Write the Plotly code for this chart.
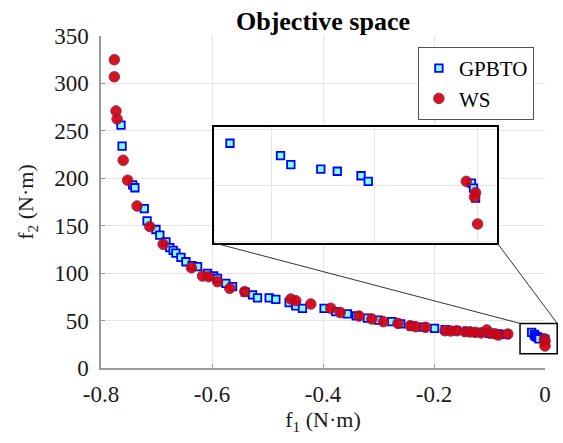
import plotly.graph_objects as go

# GPBTO front (f1, f2) in N·m
gpbto_f1 = [-0.764, -0.762, -0.743, -0.739, -0.722, -0.717, -0.701, -0.694, -0.683,
            -0.676, -0.670, -0.665, -0.656, -0.647, -0.636, -0.626, -0.608, -0.597,
            -0.590, -0.575, -0.563, -0.540, -0.527, -0.518, -0.497, -0.485, -0.461,
            -0.449, -0.437, -0.398, -0.377, -0.356, -0.340, -0.320, -0.300, -0.276,
            -0.260, -0.240, -0.220, -0.199, -0.180, -0.160, -0.140, -0.120, -0.100,
            -0.085, -0.070,
            -0.0240, -0.0191, -0.0181, -0.0152, -0.0136, -0.0113, -0.0106,
            -0.0006, -0.0004, -0.0002]
gpbto_f2 = [256, 234, 193, 190, 168, 155, 146, 140, 133,
            127, 124, 121, 116.7, 112, 108, 106.8, 99.8, 97,
            94.5, 89.3, 85.7, 80, 77, 74, 74, 72.4, 68.9,
            65.4, 62.9, 62.9, 59.4, 57, 55, 52.5, 50.5, 48.8,
            46.5, 44.5, 43, 41.8, 40.5, 39.5, 38.5, 37.5, 36.5,
            36, 35.5,
            37.6, 35.4, 33.8, 33.0, 32.6, 31.8, 30.8,
            30.5, 29.6, 27.8]

# WS front (f1, f2) in N·m
ws_f1 = [-0.776, -0.776, -0.773, -0.771, -0.760, -0.752, -0.735, -0.712, -0.688,
         -0.637, -0.617, -0.606, -0.590, -0.568, -0.541, -0.458, -0.449, -0.422,
         -0.386, -0.369, -0.335, -0.312, -0.291, -0.265, -0.243, -0.233, -0.215,
         -0.180, -0.170, -0.159, -0.144, -0.135, -0.126, -0.115, -0.105, -0.099,
         -0.090, -0.084, -0.067,
         -0.0011, -0.0002, -0.0003, 0.0]
ws_f2 = [325, 307, 271, 262.5, 219, 198, 170.8, 149, 130.5,
         105.7, 97, 96.3, 91, 84, 80.5, 72.7, 71, 67.5,
         63, 58.5, 54.8, 51.7, 48.8, 47.1, 44.6, 43.5, 42.9,
         39.3, 39.0, 39.3, 38.3, 38.0, 37.6, 37.0, 40.1, 36.6,
         36.0, 34.8, 35.8,
         30.8, 28.8, 28.0, 23.2]

# Axis ticks
x_ticks = [-0.8, -0.6, -0.4, -0.2, 0]
x_tick_text = ["-0.8", "-0.6", "-0.4", "-0.2", "0"]
y_ticks = [0, 50, 100, 150, 200, 250, 300, 350]
y_tick_text = ["0", "50", "100", "150", "200", "250", "300", "350"]

x_range = [-0.8, 0.0]
y_range = [0, 350]

# Zoomed region: marked rectangle on the main axes and the inset axes limits
zoom_box_x = [-0.045, 0.022]
zoom_box_y = [15, 47]
inset_x_range = [-0.0255, 0.0019]
inset_y_range = [19.8, 40.5]
inset_dom_x = [0.2556, 0.8924]
inset_dom_y = [0.3765, 0.7259]

FONT = "Liberation Serif, Times New Roman, serif"
SQ_FILL, SQ_EDGE = "#80ffff", "#0000ff"
CI_FILL, CI_EDGE = "#d40010", "#8a2040"
GRID = "#e6e6e6"
AXIS = "#9a9a9a"
TXT = "#1a1a1a"


def to_paper_x(v):
    return (v - x_range[0]) / (x_range[1] - x_range[0])


def to_paper_y(v):
    return (v - y_range[0]) / (y_range[1] - y_range[0])


fig = go.Figure()

for xa, ya, main in (("x", "y", True), ("x2", "y2", False)):
    fig.add_trace(go.Scatter(
        x=gpbto_f1, y=gpbto_f2, mode="markers", name="GPBTO",
        xaxis=xa, yaxis=ya, showlegend=main, cliponaxis=not main,
        marker=dict(symbol="square", size=7.5, color=SQ_FILL,
                    line=dict(color=SQ_EDGE, width=1.8)),
    ))
    fig.add_trace(go.Scatter(
        x=ws_f1, y=ws_f2, mode="markers", name="WS",
        xaxis=xa, yaxis=ya, showlegend=main, cliponaxis=not main,
        marker=dict(symbol="circle", size=10.5, color=CI_FILL, opacity=0.92,
                    line=dict(color=CI_EDGE, width=1)),
    ))

shapes = [
    # opaque inset background
    dict(type="rect", xref="x2 domain", yref="y2 domain", x0=0, x1=1, y0=0, y1=1,
         fillcolor="white", line=dict(width=0), layer="below"),
    # rectangle marking the zoomed region
    dict(type="rect", xref="paper", yref="paper",
         x0=to_paper_x(zoom_box_x[0]), x1=to_paper_x(zoom_box_x[1]),
         y0=to_paper_y(zoom_box_y[0]), y1=to_paper_y(zoom_box_y[1]),
         line=dict(color="black", width=1.5)),
    # connector lines from the inset to the marked region
    dict(type="line", xref="paper", yref="paper",
         x0=inset_dom_x[0], y0=inset_dom_y[0],
         x1=to_paper_x(zoom_box_x[0]), y1=to_paper_y(zoom_box_y[1]),
         line=dict(color="#333333", width=1)),
    dict(type="line", xref="paper", yref="paper",
         x0=inset_dom_x[1], y0=inset_dom_y[0],
         x1=to_paper_x(zoom_box_x[1]), y1=to_paper_y(zoom_box_y[1]),
         line=dict(color="#333333", width=1)),
]

tick_font = dict(family=FONT, size=23, color=TXT)

fig.update_layout(
    width=563, height=443,
    margin=dict(l=101, r=16, t=36, b=75),
    paper_bgcolor="white", plot_bgcolor="white",
    font=dict(family=FONT, size=22, color=TXT),
    title=dict(text="<b>Objective space</b>", x=0.5, xref="paper",
               y=1 - 21 / 443, yanchor="middle",
               font=dict(family=FONT, size=26, color="black")),
    xaxis=dict(range=x_range, tickvals=x_ticks, ticktext=x_tick_text,
               tickfont=tick_font, ticklabelstandoff=5,
               showgrid=True, gridcolor=GRID, zeroline=False,
               showline=True, linecolor=AXIS, linewidth=1.5,
               ticks="inside", ticklen=4, tickcolor=AXIS,
               title=dict(text="f<sub>1</sub> (N·m)", standoff=0,
                          font=dict(family=FONT, size=22, color=TXT))),
    yaxis=dict(range=y_range, tickvals=y_ticks, ticktext=y_tick_text,
               tickfont=tick_font, ticklabelstandoff=6,
               showgrid=True, gridcolor=GRID, zeroline=False,
               showline=True, linecolor=AXIS, linewidth=1.5,
               ticks="inside", ticklen=4, tickcolor=AXIS,
               title=dict(text="f<sub>2</sub> (N·m)", standoff=14,
                          font=dict(family=FONT, size=22, color=TXT))),
    xaxis2=dict(domain=inset_dom_x, anchor="y2", range=inset_x_range,
                dtick=0.01, tick0=0, showticklabels=False, ticks="",
                showgrid=True, gridcolor=GRID, zeroline=False,
                showline=True, mirror=True, linecolor="black", linewidth=2),
    yaxis2=dict(domain=inset_dom_y, anchor="x2", range=inset_y_range,
                dtick=10, tick0=0, showticklabels=False, ticks="",
                showgrid=True, gridcolor=GRID, zeroline=False,
                showline=True, mirror=True, linecolor="black", linewidth=2),
    legend=dict(x=0.975, y=0.967, xanchor="right", yanchor="top",
                bgcolor="white", bordercolor="#555555", borderwidth=1,
                font=dict(family=FONT, size=21, color="black"),
                itemwidth=30),
    shapes=shapes,
)

fig.write_html("out.html")
